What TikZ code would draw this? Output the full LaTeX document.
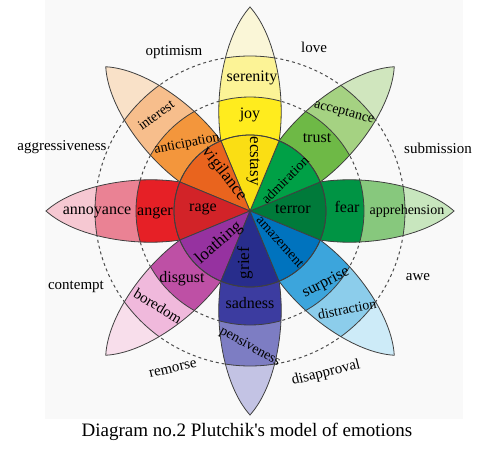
\documentclass[tikz,border=0pt]{standalone}
\usepackage{fontspec}
\setmainfont{Liberation Serif}[Ligatures=TeXOff]
\usepackage{tikz}
\usepackage{xcolor}

\definecolor{paper}{RGB}{249,249,249}
\definecolor{terrorC}{RGB}{0,122,58}
\definecolor{fearC}{RGB}{0,148,68}
\definecolor{apprC}{RGB}{135,200,125}
\definecolor{fearT}{RGB}{200,230,190}
\definecolor{admirC}{RGB}{0,160,70}
\definecolor{trustC}{RGB}{110,185,70}
\definecolor{acceptC}{RGB}{165,210,130}
\definecolor{trustT}{RGB}{208,230,190}
\definecolor{ecstasyC}{RGB}{250,222,20}
\definecolor{joyC}{RGB}{255,236,30}
\definecolor{serenC}{RGB}{252,243,150}
\definecolor{joyT}{RGB}{250,246,215}
\definecolor{vigilC}{RGB}{233,100,30}
\definecolor{anticC}{RGB}{243,150,60}
\definecolor{interC}{RGB}{247,190,140}
\definecolor{anticT}{RGB}{249,225,200}
\definecolor{rageC}{RGB}{210,35,40}
\definecolor{angerC}{RGB}{230,32,38}
\definecolor{annoyC}{RGB}{234,130,148}
\definecolor{angerT}{RGB}{246,200,210}
\definecolor{loathC}{RGB}{150,50,160}
\definecolor{disgC}{RGB}{190,80,165}
\definecolor{boredC}{RGB}{240,185,220}
\definecolor{disgT}{RGB}{248,222,235}
\definecolor{griefC}{RGB}{40,45,140}
\definecolor{sadC}{RGB}{60,60,160}
\definecolor{pensC}{RGB}{125,125,195}
\definecolor{sadT}{RGB}{195,195,228}
\definecolor{amazeC}{RGB}{0,115,190}
\definecolor{surpC}{RGB}{60,165,220}
\definecolor{distrC}{RGB}{140,205,235}
\definecolor{surpT}{RGB}{205,235,248}

\newcommand{\petalpath}{(-22.5:76) .. controls (115,-36) and (175,-26) .. (204,0)
  .. controls (175,26) and (115,36) .. (22.5:76)
  arc[start angle=22.5,end angle=-22.5,radius=76] -- cycle}

\begin{document}
\begin{tikzpicture}[x=1pt,y=1pt,
      edge/.style={draw=black!75,line width=0.8pt},
      ring/.style={draw=black!70,line width=1pt,dash pattern=on 3pt off 3pt},
      lab/.style={font=\fontsize{16}{18}\selectfont,inner sep=0pt},
      big/.style={font=\fontsize{17}{19}\selectfont,inner sep=0pt},
      sml/.style={font=\fontsize{14}{16}\selectfont,inner sep=0pt},
      rim/.style={font=\fontsize{15}{17}\selectfont,inner sep=0pt},
      title/.style={font=\fontsize{19}{21}\selectfont,inner sep=0pt}]
    \useasboundingbox (-250,-244) rectangle (245,211);
    \fill[paper] (-205,-208) rectangle (213,211);
    \draw[ring] (0,0) circle[radius=114];
    \draw[ring] (0,0) circle[radius=155];

    \foreach \a/\ca/\cb/\cc/\cd in {0/terrorC/fearC/apprC/fearT,
        45/admirC/trustC/acceptC/trustT, 90/ecstasyC/joyC/serenC/joyT,
        135/vigilC/anticC/interC/anticT, 180/rageC/angerC/annoyC/angerT,
        225/loathC/disgC/boredC/disgT, 270/griefC/sadC/pensC/sadT,
        315/amazeC/surpC/distrC/surpT}{
      \begin{scope}[rotate=\a]
        \begin{scope}
          \clip \petalpath;
          \fill[\cd] (0,0) circle[radius=210];
          \fill[\cc] (0,0) circle[radius=155];
          \fill[\cb] (0,0) circle[radius=114];
          \draw[edge] (0,0) circle[radius=114] (0,0) circle[radius=155];
        \end{scope}
        \filldraw[edge,fill=\ca] (0,0) -- (-22.5:76)
          arc[start angle=-22.5,end angle=22.5,radius=76] -- cycle;
        \draw[edge] \petalpath;
      \end{scope}
    }

    \node[lab] (rage) at (-47,2) {rage};
    \node[lab] (terror) at (43,2) {terror};
    \node[big,rotate=-90] (ecstasy) at (3,50) {ecstasy};
    \node[sml,rotate=45] (admiration) at (35,31) {admiration};
    \node[sml,rotate=-48] (amazement) at (30,-31) {amazement};
    \node[big,rotate=90] (grief) at (-5,-52) {grief};
    \node[big,rotate=41] (loathing) at (-31,-32) {loathing};
    \node[big,rotate=-52] (vigilance) at (-26,37) {vigilance};

    \node[lab] (joy) at (0,96) {joy};
    \node[lab] (serenity) at (2,133) {serenity};
    \node[lab] (trust) at (67,73) {trust};
    \node[sml,rotate=-15] (acceptance) at (94,98) {acceptance};
    \node[lab] (fear) at (97,4) {fear};
    \node[sml] (apprehension) at (157,0) {apprehension};
    \node[lab,rotate=27] (surprise) at (76,-72) {surprise};
    \node[sml,rotate=11] (distraction) at (97,-98) {distraction};
    \node[lab] (sadness) at (0,-92) {sadness};
    \node[sml,rotate=-29] (pensiveness) at (0,-136) {pensiveness};
    \node[lab] (disgust) at (-68,-68) {disgust};
    \node[rim,rotate=-31] (boredom) at (-92,-95) {boredom};
    \node[lab] (anger) at (-95,-2) {anger};
    \node[lab] (annoyance) at (-153,-1) {annoyance};
    \node[sml,rotate=11] (anticipation) at (-63,67) {anticipation};
    \node[sml,rotate=36] (interest) at (-94,96) {interest};

    \node[rim] (optimism) at (-76,159) {optimism};
    \node[rim] (love) at (64,164) {love};
    \node[rim] (submission) at (188,63) {submission};
    \node[rim] (awe) at (168,-66) {awe};
    \node[rim,rotate=14] (disapproval) at (76,-162) {disapproval};
    \node[rim,rotate=13] (remorse) at (-77,-158) {remorse};
    \node[rim] (contempt) at (-174,-76) {contempt};
    \node[rim] (aggressiveness) at (-188,64) {aggressiveness};

    \node[title] (caption) at (-3,-221) {Diagram no.2 Plutchik's model of emotions};
  \end{tikzpicture}
\end{document}
